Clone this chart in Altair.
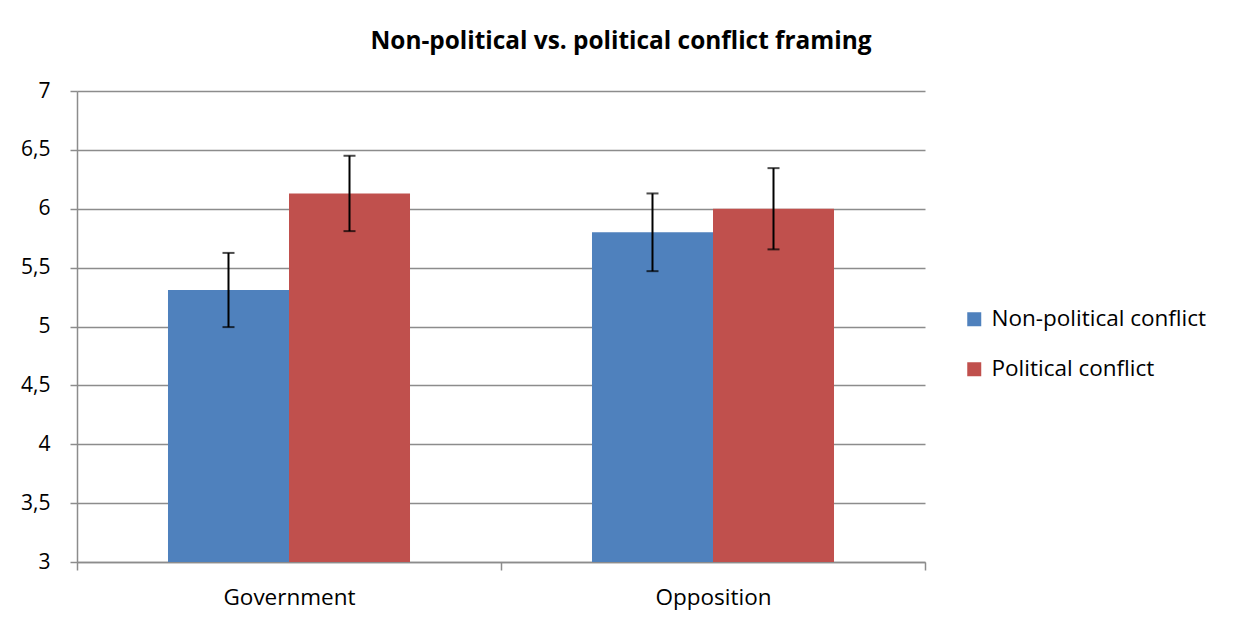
import altair as alt
import pandas as pd

groups = ["Government", "Government", "Opposition", "Opposition"]
frames = ["Non-political conflict", "Political conflict", "Non-political conflict", "Political conflict"]
means = [5.31, 6.13, 5.80, 6.00]
errs = [0.315, 0.32, 0.33, 0.345]
series = ["Non-political conflict", "Political conflict"]
colors = ["#4F81BD", "#C0504D"]
yticks = [3, 3.5, 4, 4.5, 5, 5.5, 6, 6.5, 7]
y_base = 3

df = pd.DataFrame({"group": groups, "frame": frames, "mean": means, "err": errs})
df["lo"] = df["mean"] - df["err"]
df["hi"] = df["mean"] + df["err"]

FONT = "Open Sans"
GRID = "#8c8c8c"

x = alt.X("group:N", scale=alt.Scale(paddingInner=0, paddingOuter=0),
          axis=alt.Axis(title=None, labelAngle=0, tickBand="extent", grid=False,
                        domainColor=GRID, tickColor=GRID, tickSize=8, domainWidth=1.5, tickWidth=1.5,
                        labelFont=FONT, labelFontSize=22.5, labelColor="#000000", labelPadding=16))
xo = alt.XOffset("frame:N", sort=series, scale=alt.Scale(paddingInner=0, paddingOuter=0.752))
yscale = alt.Scale(domain=[3, 7], nice=False, zero=False)

base = alt.Chart(df)

bars = base.mark_bar().encode(
    x=x, xOffset=xo,
    y=alt.Y("mean:Q", scale=yscale,
            axis=alt.Axis(title=None, values=yticks, grid=True, gridColor=GRID, gridWidth=1.5,
                          domainColor=GRID, tickColor=GRID, tickSize=7, domainWidth=1.5, tickWidth=1.5,
                          labelFont=FONT, labelFontSize=21, labelColor="#000000", labelPadding=20,
                          labelExpr="replace(format(datum.value, '.1~f'), '.', ',')")),
    y2=alt.Y2(datum=y_base),
    color=alt.Color("frame:N", scale=alt.Scale(domain=series, range=colors),
                    legend=alt.Legend(title=None, orient="none", legendX=886, legendY=217,
                                      symbolType="square", symbolSize=196, symbolStrokeWidth=0,
                                      labelFont=FONT, labelFontSize=22.5, labelColor="#000000",
                                      labelLimit=400, rowPadding=27, labelOffset=6)),
)

rules = base.mark_rule(color="black", strokeWidth=2).encode(
    x=x, xOffset=xo, y=alt.Y("lo:Q", scale=yscale), y2="hi:Q")

tick_lo = base.mark_tick(color="black", thickness=2, size=12).encode(
    x=x, xOffset=xo, y=alt.Y("lo:Q", scale=yscale))
tick_hi = base.mark_tick(color="black", thickness=2, size=12).encode(
    x=x, xOffset=xo, y=alt.Y("hi:Q", scale=yscale))

chart = alt.layer(bars, rules, tick_lo, tick_hi).properties(
    width=848, height=471,
    autosize=alt.AutoSizeParams(type="none"),
    padding={"left": 69, "top": 83, "right": 300, "bottom": 54},
    title=alt.TitleParams("Non-political vs. political conflict framing", font=FONT, fontSize=24.4,
                          fontWeight="bold", color="#000000", anchor="middle", dx=120, offset=26),
).configure_view(stroke="transparent")

chart.save("out.html", embed_options={"renderer": "svg", "actions": False})
